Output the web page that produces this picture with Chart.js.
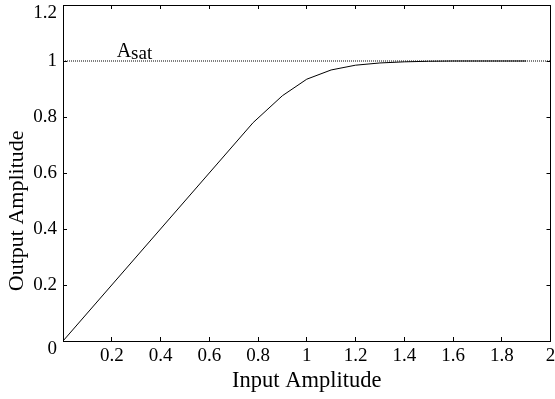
<!DOCTYPE html>
<html>
<head>
<meta charset="utf-8">
<script src="https://cdn.jsdelivr.net/npm/chart.js@4.4.1/dist/chart.umd.min.js"></script>
<style>
    html, body { margin: 0; padding: 0; background: #fff; }
</style>
</head>
<body>
<canvas id="ampChart" width="555" height="399"></canvas>
<script>
// input / output amplitude of the limiter curve
const inputAmp = [0, 0.78, 0.9, 1.0, 1.1, 1.2, 1.3, 1.4, 1.5, 1.6, 1.7, 1.8, 1.9];
const outputAmp = [0, 0.78, 0.876, 0.935, 0.968, 0.985, 0.993, 0.997, 0.999, 1.0, 1.0, 1.0, 1.0];

// saturation level line
const satX = [0, 2];
const satY = [1, 1];

const xTickLabels = ["", "0.2", "0.4", "0.6", "0.8", "1", "1.2", "1.4", "1.6", "1.8", "2"];
const yTickLabels = ["0", "0.2", "0.4", "0.6", "0.8", "1", "1.2"];

const serif = "'Liberation Serif', 'Times New Roman', serif";

// A_sat label and the y axis title (sits a bit below centre in the original)
const extraText = {
    id: "extraText",
    afterDraw(chart) {
        const ctx = chart.ctx;
        const x = chart.scales.x.getPixelForValue(0.22);
        const y = chart.scales.y.getPixelForValue(1) - 4;
        ctx.save();
        ctx.fillStyle = "#000";
        ctx.textBaseline = "alphabetic";
        ctx.font = "20px " + serif;
        ctx.fillText("A", x, y);
        const w = ctx.measureText("A").width;
        ctx.font = "19px " + serif;
        ctx.fillText("sat", x + w, y + 2);

        ctx.translate(17, chart.scales.y.getPixelForValue(0.465));
        ctx.rotate(-Math.PI / 2);
        ctx.font = "22px " + serif;
        ctx.textAlign = "center";
        ctx.textBaseline = "middle";
        ctx.fillText("Output Amplitude", 0, 0);
        ctx.restore();
    }
};

const tickGrid = { drawOnChartArea: false, tickLength: -4, color: "#000" };

new Chart(document.getElementById("ampChart").getContext("2d"), {
    type: "line",
    data: {
        datasets: [{
            data: inputAmp.map((v, i) => ({ x: v, y: outputAmp[i] })),
            borderColor: "#000",
            borderWidth: 1,
            pointRadius: 0,
            tension: 0
        }, {
            data: satX.map((v, i) => ({ x: v, y: satY[i] })),
            borderColor: "#000",
            borderWidth: 1,
            borderDash: [1, 1],
            pointRadius: 0
        }]
    },
    options: {
        responsive: false,
        animation: false,
        devicePixelRatio: 1,
        plugins: {
            legend: { display: false },
            tooltip: { enabled: false }
        },
        scales: {
            x: {
                type: "linear",
                position: "bottom",
                min: 0,
                max: 2,
                grid: tickGrid,
                border: { color: "#000" },
                ticks: {
                    stepSize: 0.2,
                    padding: 8,
                    color: "#000",
                    maxRotation: 0,
                    font: { family: serif, size: 19 },
                    callback: (v, i) => xTickLabels[i]
                },
                title: {
                    display: true,
                    text: "Input Amplitude",
                    color: "#000",
                    font: { family: serif, size: 22.5 },
                    padding: { top: 0, bottom: 4 }
                },
                afterFit: s => { s.height = 58; s.paddingLeft = 0; s.paddingRight = 4.5; }
            },
            y: {
                type: "linear",
                position: "left",
                min: 0,
                max: 1.2,
                grid: tickGrid,
                border: { color: "#000" },
                ticks: {
                    stepSize: 0.2,
                    padding: 10,
                    color: "#000",
                    font: { family: serif, size: 19, lineHeight: 0.8 },
                    callback: (v, i) => (i === 0 || i === yTickLabels.length - 1) ? ["", yTickLabels[i]] : yTickLabels[i]
                },
                afterFit: s => { s.width = 63; s.paddingTop = 0; s.paddingBottom = 0; }
            },
            x2: {
                type: "linear",
                position: "top",
                min: 0,
                max: 2,
                grid: tickGrid,
                border: { color: "#000" },
                ticks: { stepSize: 0.2, display: false },
                afterFit: s => { s.height = 5; }
            },
            y2: {
                type: "linear",
                position: "right",
                min: 0,
                max: 1.2,
                grid: tickGrid,
                border: { color: "#000" },
                ticks: { stepSize: 0.2, display: false },
                afterFit: s => { s.width = 0; }
            }
        }
    },
    plugins: [extraText]
});
</script>
</body>
</html>
